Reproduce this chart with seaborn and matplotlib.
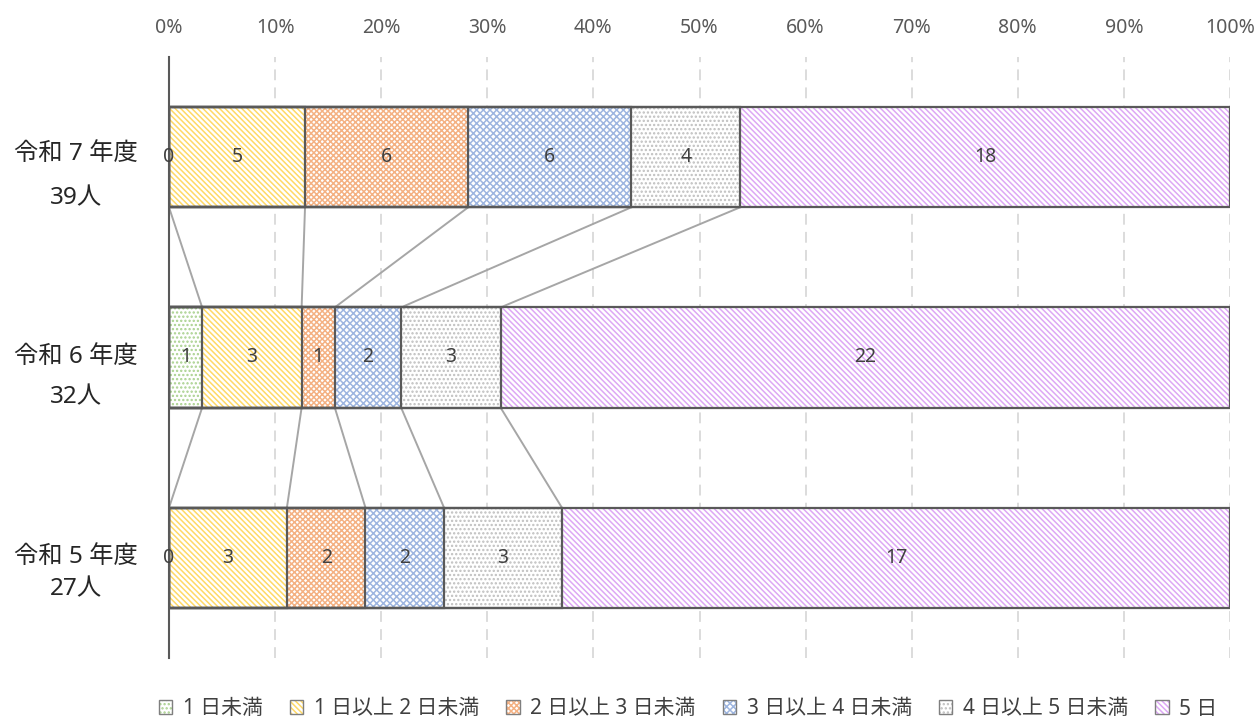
import numpy as np
import pandas as pd
import matplotlib
matplotlib.use("Agg")
import matplotlib.pyplot as plt
import seaborn as sns
from matplotlib.patches import Patch
from matplotlib.legend_handler import HandlerTuple

# ---- data ----
years = ["令和 7 年度", "令和 6 年度", "令和 5 年度"]
totals = ["39人", "32人", "27人"]
series = ["1 日未満", "1 日以上 2 日未満", "2 日以上 3 日未満",
          "3 日以上 4 日未満", "4 日以上 5 日未満", "5 日"]
r7 = [0, 5, 6, 6, 4, 18]
r6 = [1, 3, 1, 2, 3, 22]
r5 = [0, 3, 2, 2, 3, 17]
ticks = [0, 10, 20, 30, 40, 50, 60, 70, 80, 90, 100]

hatch_colors = ["#A9D18E", "#FFD966", "#F4B183", "#9DB5E0", "#BFBFBF", "#DDA8F5"]
hatches = ["....", "\\\\\\\\\\\\", "xxxxxx", "xxxxx", "....", "\\\\\\\\\\\\"]

sns.set_theme(style="white")
plt.rcParams["font.family"] = ["Noto Sans", "Noto Sans CJK JP", "DejaVu Sans"]
plt.rcParams["hatch.linewidth"] = 1.1

counts = np.array([r7, r6, r5], dtype=float)
pct = counts / counts.sum(axis=1, keepdims=True) * 100
cum = np.cumsum(pct, axis=1)
left = cum - pct

fig = plt.figure(figsize=(12.58, 7.19), dpi=100)
ax = fig.add_axes([169 / 1258, 1 - 658 / 719, (1230 - 169) / 1258, (658 - 57) / 719])

edge = "#595959"
for k in range(len(series) - 1, -1, -1):
    df = pd.DataFrame({"year": years, "cum": cum[:, k]})
    sns.barplot(data=df, x="cum", y="year", orient="h", color="white",
                hatch=hatches[k], edgecolor=hatch_colors[k], linewidth=0,
                width=0.5, ax=ax, zorder=2, saturation=1)
    sns.barplot(data=df, x="cum", y="year", orient="h", facecolor="none",
                edgecolor=edge, linewidth=1.6, width=0.5, ax=ax, zorder=3)

# connector lines between bars
for i in range(len(years) - 1):
    for k in range(len(series) - 1):
        ax.plot([cum[i, k], cum[i + 1, k]], [i + 0.25, i + 1 - 0.25],
                color="#A6A6A6", lw=1.4, zorder=1)

# value labels
for i in range(len(years)):
    for k in range(len(series)):
        ax.text(left[i, k] + pct[i, k] / 2, i, f"{int(counts[i, k])}",
                ha="center", va="center", fontsize=14, color="#404040", zorder=5)

ax.set_xlim(0, 100)
ax.set_ylim(2.5, -0.5)
ax.set_xticks(ticks)
ax.set_xticklabels([f"{t}%" for t in ticks], fontsize=14, color="#595959")
ax.xaxis.tick_top()
ax.tick_params(axis="x", length=0, pad=14)
ax.tick_params(axis="y", length=0)
ax.set_yticks(range(len(years)))
ax.set_yticklabels([])
ax.set_xlabel("")
ax.set_ylabel("")

# category labels (two lines)
second_off = [0.205, 0.2, 0.155]
first_off = [-0.015, -0.005, -0.005]
for i in range(len(years)):
    ax.text(-0.0875, i + first_off[i], years[i], transform=ax.get_yaxis_transform(),
            ha="center", va="center", fontsize=17.5, color="#262626")
    ax.text(-0.0875, i + second_off[i], totals[i], transform=ax.get_yaxis_transform(),
            ha="center", va="center", fontsize=17.5, color="#262626")

ax.grid(axis="x", color="#D9D9D9", linestyle=(0, (6, 4)), lw=1.3, zorder=0)
ax.set_axisbelow(True)
for s in ["top", "right", "bottom"]:
    ax.spines[s].set_visible(False)
ax.spines["left"].set_color(edge)
ax.spines["left"].set_linewidth(1.5)
ax.spines["left"].set_zorder(4)

handles = [(Patch(facecolor="white", edgecolor=hatch_colors[k], hatch=hatches[k], linewidth=0),
            Patch(facecolor="none", edgecolor="#7F7F7F", linewidth=1.0))
           for k in range(len(series))]
leg = fig.legend(handles=handles, labels=series, loc="center",
                 bbox_to_anchor=(0.547, 1 - 709 / 719),
                 handler_map={tuple: HandlerTuple(ndivide=1, pad=0)},
                 ncol=6, frameon=False, fontsize=15, handlelength=0.65, handleheight=0.65,
                 handletextpad=0.5, columnspacing=1.3, borderaxespad=0, borderpad=0.1)
for t in leg.get_texts():
    t.set_color("#404040")

fig.savefig("out.png", dpi=100)
